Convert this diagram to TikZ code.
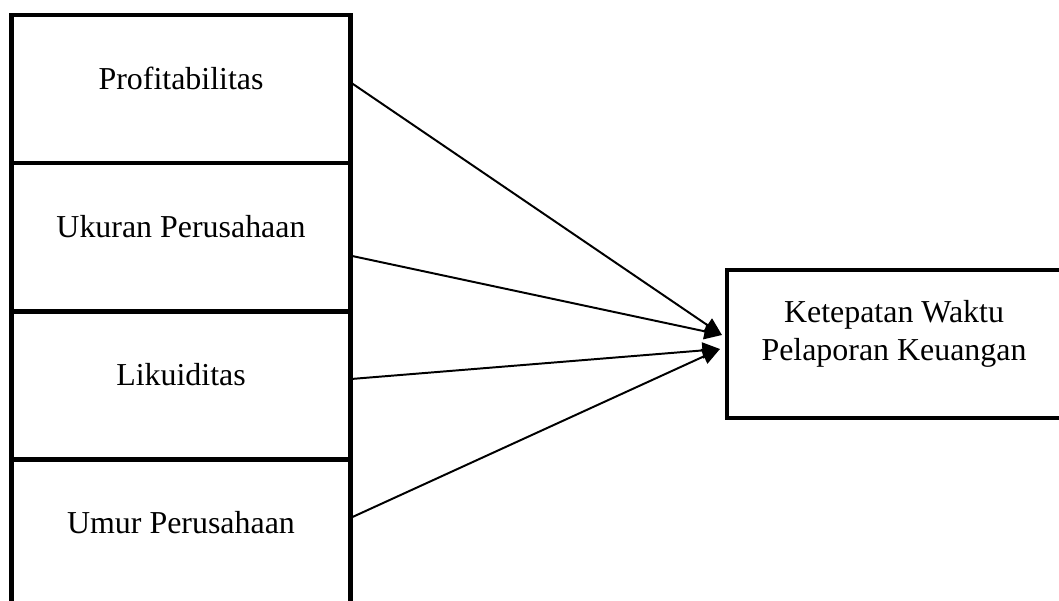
\documentclass[tikz,border=0pt]{standalone}
\usepackage{fontspec}
\setmainfont{Liberation Serif}
\usepackage{tikz}
\usetikzlibrary{positioning,calc,arrows.meta}

\tikzset{
    varbox/.style={draw, line width=3.5pt, outer sep=0pt, inner sep=0pt,
        minimum width=8.45cm, minimum height=3.7cm},
    dvbox/.style={varbox, minimum width=8.35cm},
    txt/.style={inner sep=0pt, font=\fontsize{22.7}{27}\selectfont},
    link/.style={line width=1.4pt, -{Triangle[length=0.44cm, width=0.4cm]}}
}

\begin{document}
\begin{tikzpicture}[x=0.025cm, y=-0.025cm, node distance=0pt]
    \useasboundingbox (0,0) rectangle (1059,600);

    % Independent variables
    \node[varbox] (b1) at (181,89) {};
    \node[varbox, below=of b1] (b2) {};
    \node[varbox, below=of b2] (b3) {};
    \node[varbox, below=of b3] (b4) {};
    \node[txt, anchor=base] (t1) at (b1.center) {Profitabilitas};
    \node[txt, anchor=base] (t2) at (b2.center) {Ukuran Perusahaan};
    \node[txt, anchor=base] (t3) at (b3.center) {Likuiditas};
    \node[txt, anchor=base] (t4) at (b4.center) {Umur Perusahaan};

    % Dependent variable
    \node[dvbox] (dep) at (894,344) {};
    \node[txt, align=center] (t5) at ($(dep.center)+(0,-10.5)$)
        {Ketepatan Waktu\\Pelaporan Keuangan};

    % Arrows
    \coordinate (tipA) at ($(dep.west)+(-5,-9)$);
    \coordinate (tipB) at ($(dep.west)+(-7,5)$);
    \draw[link] ($(b1.east)+(0,-7)$) -- (tipA);
    \draw[link] ($(b2.east)+(0,18.5)$) -- (tipA);
    \draw[link] ($(b3.east)+(0,-6)$) -- (tipB);
    \draw[link] ($(b4.east)+(0,-15)$) -- (tipB);
\end{tikzpicture}
\end{document}
